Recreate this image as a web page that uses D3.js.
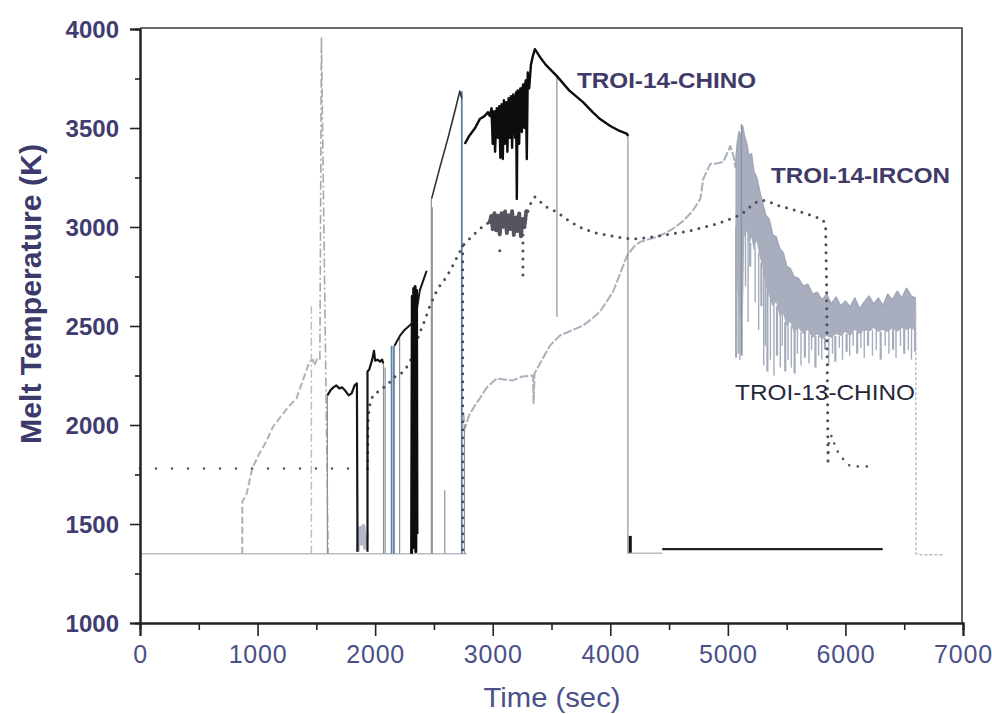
<!DOCTYPE html>
<html>
<head>
<meta charset="utf-8">
<script src="https://cdn.jsdelivr.net/npm/d3@7"></script>
<style>
  html, body { margin: 0; padding: 0; background: #fff; }
  svg { display: block; }
</style>
</head>
<body>
<svg id="chart" width="992" height="714"></svg>
<script>
// -- axis ticks --
const xTicks = [0, 1000, 2000, 3000, 4000, 5000, 6000, 7000];
const xMinor = [500, 1500, 2500, 3500, 4500, 5500, 6500];
const yTicks = [1000, 1500, 2000, 2500, 3000, 3500, 4000];
const yMinor = [1250, 1750, 2250, 2750, 3250, 3750];

// -- TROI-14-CHINO (black) --
const chino14a = [[1594,2150],[1620,2175],[1645,2190],[1670,2200],[1695,2185],[1720,2190],[1750,2170],[1775,2150],[1800,2160],[1825,2200],[1845,2210],[1850,1360]];
const chino14b = [[1935,1360],[1935,2270],[1950,2280],[1975,2330],[1990,2375],[2000,2325],[2020,2330],[2040,2320],[2060,2330],[2068,2310]];
const chino14c = [[2165,2400],[2210,2450],[2250,2480],[2293,2502],[2340,2530],[2380,2680],[2438,2779]];
const chino14burst = [[2310,1350],[2316,2650],[2322,1380],[2328,2690],[2334,1400],[2340,2700],[2346,1360],[2352,2680],[2356,1450]];
const chino14ramp = [[2480,3142],[2550,3300],[2620,3450],[2680,3590],[2720,3686],[2737,3650]];
const chino14main = [[2762,3419],[2800,3460],[2850,3500],[2890,3545],[2930,3560],[2960,3580],[2975,3560],[2990,3600],[3000,3420],[3010,3580],[3020,3380],[3035,3600],[3045,3450],[3055,3610],[3065,3350],[3075,3620],[3086,3343],[3095,3640],[3105,3420],[3115,3630],[3125,3380],[3135,3650],[3145,3450],[3155,3660],[3165,3400],[3175,3670],[3190,3450],[3198,3680],[3205,3142],[3212,3690],[3225,3420],[3235,3700],[3248,3480],[3258,3720],[3270,3500],[3280,3740],[3290,3343],[3298,3780],[3310,3700],[3325,3820],[3340,3860],[3359,3898],[3400,3860],[3450,3820],[3546,3762],[3650,3690],[3768,3631],[3850,3580],[3913,3545],[4000,3510],[4080,3485],[4143,3470],[4150,3460]];
const chino14coreT  = [2985,3020,3060,3100,3140,3180,3220,3260,3300];
const chino14coreHi = [3590,3590,3610,3620,3640,3660,3690,3720,3760];
const chino14coreLo = [3520,3470,3460,3480,3470,3480,3500,3520,3600];
const chino14tick = [[4170,1355],[4170,1440]];
const chino14flat = [[4442,1373],[6317,1373]];

// -- TROI-14-IRCON (dotted) --
const ircon14flat = [[0,1780],[1841,1780]];
const ircon14rise = [[1935,1780],[1940,2040],[1960,2120],[1990,2160],[2037,2170],[2070,2190],[2106,2200],[2150,2240],[2208,2250],[2250,2280],[2293,2310],[2350,2420],[2421,2527],[2463,2597],[2532,2688],[2608,2749],[2677,2824],[2745,2905],[2800,2940],[2864,2976],[2930,3010],[2975,3026]];
const ircon14noise = [[2975,3026],[2990,3060],[3000,2990],[3015,3070],[3030,2980],[3045,3060],[3060,2960],[3075,3070],[3090,3000],[3105,3080],[3120,2970],[3135,3060],[3150,2990],[3165,3080],[3180,2960],[3195,3050],[3210,2980],[3225,3070],[3240,2950],[3255,3040],[3270,3000],[3285,3080],[3300,3080]];
const ircon14fall = [[3300,3080],[3330,3130],[3359,3152],[3400,3130],[3460,3100],[3546,3076],[3650,3030],[3768,2991],[3880,2970],[3998,2956],[4100,2945],[4194,2940],[4300,2945],[4425,2956],[4550,2968],[4680,2981],[4800,3000],[4910,3016],[5000,3036],[5081,3056],[5150,3080],[5220,3120],[5290,3135],[5336,3132],[5420,3110],[5533,3092],[5650,3070],[5750,3050],[5800,3040],[5831,3016],[5840,2700],[5845,2300],[5852,1817]];
const ircon14tail = [[5852,1817],[5862,1942],[5890,1945],[5915,1880],[5960,1847],[6000,1810],[6045,1791],[6200,1791]];
const ircon14drops = [[[3257,3000],[3257,2750]], [[2745,2905],[2745,1360]], [[3060,2880],[3062,2875]]];

// -- TROI-13-CHINO (grey) --
const chino13base = [[0,1350],[2780,1350]];
const chino13base2 = [[4150,1352],[4442,1352]];
const chino13rise = [[870,1350],[870,1615],[904,1645],[955,1781],[1010,1850],[1074,1917],[1130,1990],[1185,2033],[1260,2090],[1330,2134],[1400,2250],[1441,2320],[1470,2330],[1483,2300],[1510,2340]];
const chino13blob = [[1850,1360],[1870,1480],[1885,1400],[1900,1490],[1915,1380],[1930,1450]];
const chino13climb = [[2750,2060],[2762,1983],[2800,2050],[2850,2100],[2890,2134],[2950,2190],[3035,2235],[3100,2230],[3171,2225],[3250,2245],[3342,2250],[3348,2110],[3356,2260],[3420,2330],[3487,2401],[3572,2452],[3680,2480],[3768,2502],[3850,2540],[3913,2573],[4024,2673],[4100,2790],[4143,2855],[4200,2900],[4254,2925],[4340,2940],[4425,2956],[4530,2990],[4621,3031],[4700,3080],[4766,3142],[4791,3243],[4851,3319],[4900,3320],[4962,3329],[5021,3409],[5047,3359],[5064,3300]];
const bandT  = [5064,5080,5095,5110,5125,5140,5160,5180,5200,5220,5245,5270,5295,5320,5350,5380,5410,5440,5470,5500,5530,5560,5600,5640,5680,5720,5760,5800,5840,5880,5920,5960,6000,6040,6080,6120,6160,6200,6240,6280,6320,6360,6400,6440,6480,6520,6560,6600];
const bandHi = [3300,3420,3480,3440,3510,3460,3420,3350,3370,3280,3250,3180,3120,3060,3040,2960,2950,2890,2870,2800,2790,2750,2740,2700,2710,2660,2670,2630,2660,2610,2645,2600,2625,2595,2640,2585,2620,2650,2610,2640,2600,2660,2630,2675,2640,2690,2650,2640];
const bandLo = [3000,2700,2600,2500,2450,2950,2980,2900,2950,2880,2930,2850,2800,2700,2650,2600,2620,2550,2560,2500,2520,2470,2490,2460,2480,2440,2460,2430,2450,2440,2460,2450,2470,2450,2480,2460,2480,2470,2490,2470,2480,2470,2490,2470,2490,2480,2490,2470];
const bandStreaks = [[5070,3000,2340],[5088,2700,2360],[5102,2600,2330],[5118,2500,2350],[5150,2980,2700],[5172,2950,2520],[5190,2920,2800],[5232,2900,2620],[5262,2870,2480],[5285,2820,2600],[5305,2780,2300],[5318,2720,2400],[5336,2680,2270],[5362,2640,2330],[5392,2610,2250],[5418,2600,2350],[5446,2560,2290],[5463,2560,2400],[5488,2520,2270],[5512,2510,2330],[5540,2500,2290],[5568,2480,2260],[5592,2490,2360],[5622,2470,2300],[5655,2470,2340],[5690,2470,2310],[5712,2450,2380],[5745,2450,2290],[5772,2450,2350],[5798,2440,2330],[5826,2440,2380],[5858,2440,2300],[5890,2450,2360],[5914,2450,2320],[5948,2450,2390],[5975,2460,2330],[6010,2460,2370],[6036,2460,2350],[6066,2470,2400],[6100,2470,2360],[6132,2470,2390],[6160,2480,2340],[6192,2470,2400],[6230,2480,2350],[6262,2480,2380],[6300,2470,2330],[6338,2480,2400],[6370,2480,2360],[6405,2490,2380],[6430,2480,2340],[6468,2490,2400],[6500,2490,2360],[6535,2490,2380],[6562,2490,2330],[6592,2480,2370]];
const chino13drop = [[6598,2620],[6600,1350],[6640,1345],[6840,1345]];

// -- spikes and thin connecting lines --
const dashDotA = [[1458,1350],[1458,2600]];
const dashDotB = [[1530,2330],[1543,3959],[1600,1350]];
const greyVerticals = [[1594,1350,2150],[2071,1350,2310],[2085,1350,2290],[2208,1350,2450],[2478,1350,3142],[2486,1350,3100],[2592,1350,1670],[3546,2547,3762],[4150,1350,3470],[5115,2360,3520],[2760,1350,2000]];
const blueVerticals = [[2140,1350,2400],[2160,1350,2400],[2737,1350,3686]];

// -- annotations --
const seriesNames = ["TROI-14-CHINO", "TROI-14-IRCON", "TROI-13-CHINO"];
const nameAnchors = [[3717,3702],[5367,3222],[5061,2126]];

// -- layout --
const svg = d3.select("#chart");
const x = d3.scaleLinear().domain([0, 7000]).range([140, 963]);
const y = d3.scaleLinear().domain([1000, 4000]).range([623, 29]);
const line = d3.line().x(d => x(d[0])).y(d => y(d[1]));

function draw(data, color, width, dash, cap) {
    svg.append("path")
        .attr("d", line(data))
        .attr("fill", "none")
        .attr("stroke", color)
        .attr("stroke-width", width)
        .attr("stroke-dasharray", dash || null)
        .attr("stroke-linecap", cap || "butt")
        .attr("stroke-linejoin", "round");
}

function envelope(ts, hi, lo, color) {
    let rows = ts.map((t, i) => [t, hi[i], lo[i]]);
    svg.append("path")
        .attr("d", d3.area().x(d => x(d[0])).y0(d => y(d[2])).y1(d => y(d[1]))(rows))
        .attr("fill", color);
}

// frame
svg.append("path")
    .attr("d", `M${x(0)},${y(4000) - 1}H${x(7000) - 1}V${y(1000)}`)
    .attr("fill", "none").attr("stroke", "#3a3a3a").attr("stroke-width", 1.6);

// grey noise band (TROI-13)
envelope(bandT, bandHi, bandLo, "#a8aebd");
svg.selectAll(".streak")
    .data(bandStreaks)
    .enter().append("line")
    .attr("class", "streak")
    .attr("x1", d => x(d[0])).attr("x2", d => x(d[0]))
    .attr("y1", d => y(d[1])).attr("y2", d => y(d[2]))
    .attr("stroke", "#a4abbb").attr("stroke-width", (d, i) => i % 3 === 0 ? 2.2 : 1.4);
draw(bandT.map((t, i) => [t, bandHi[i]]), "#a2a9ba", 1.8);

// TROI-13-CHINO grey line
draw(chino13base, "#b9bcc4", 1.6);
draw(chino13base2, "#b9bcc4", 1.4);
draw(chino13rise, "#aeb2bb", 2, "7,3");
draw(chino13blob, "#b3b8c6", 4);
draw(chino13climb, "#aab0bc", 2, "9,2");
draw(chino13drop, "#b4b8c0", 1.4, "3,2");

// dash-dot spikes
draw(dashDotA, "#b8b8b8", 1.4, "8,3,2,3");
draw(dashDotB, "#a8a8a8", 1.6, "9,3,2,3");

// thin vertical lines
svg.selectAll(".gv")
    .data(greyVerticals)
    .enter().append("line")
    .attr("class", "gv")
    .attr("x1", d => x(d[0])).attr("x2", d => x(d[0]))
    .attr("y1", d => y(d[1])).attr("y2", d => y(d[2]))
    .attr("stroke", "#8d9199").attr("stroke-width", 1.2);
svg.selectAll(".bv")
    .data(blueVerticals)
    .enter().append("line")
    .attr("class", "bv")
    .attr("x1", d => x(d[0])).attr("x2", d => x(d[0]))
    .attr("y1", d => y(d[1])).attr("y2", d => y(d[2]))
    .attr("stroke", "#5f83a8").attr("stroke-width", 1.8);

// TROI-14-IRCON dotted
draw(ircon14flat, "#555560", 2.6, "0,16", "round");
draw(ircon14rise, "#4e4e5a", 3, "0,8", "round");
draw(ircon14noise, "#55555f", 4, "2,2", "round");
draw(ircon14fall, "#4e4e5a", 3, "0,8", "round");
draw(ircon14tail, "#555560", 2.6, "0,9", "round");
ircon14drops.forEach(d => draw(d, "#4e4e5a", 3, "0,8", "round"));

// TROI-14-CHINO black
draw(chino14a, "#151515", 2.2);
draw(chino14b, "#151515", 2.2);
draw(chino14c, "#151515", 2);
draw(chino14burst, "#0d0d0d", 3);
draw(chino14ramp, "#303030", 1.6);
envelope(chino14coreT, chino14coreHi, chino14coreLo, "#111");
draw(chino14main, "#0d0d0d", 2.4);
draw(chino14tick, "#111", 3);
draw(chino14flat, "#222", 2.4);

// axes
const axisColor = "#222";
const xAxis = svg.append("g").attr("transform", `translate(0,${y(1000)})`)
    .call(d3.axisBottom(x).tickValues(xTicks).tickSize(13).tickPadding(9).tickFormat(d3.format("d")));
const xAxisMinor = svg.append("g").attr("transform", `translate(0,${y(1000)})`)
    .call(d3.axisBottom(x).tickValues(xMinor).tickSize(7).tickFormat(""));
const yAxis = svg.append("g").attr("transform", `translate(${x(0)},0)`)
    .call(d3.axisLeft(y).tickValues(yTicks).tickSize(10).tickPadding(11).tickFormat(d3.format("d")));
const yAxisMinor = svg.append("g").attr("transform", `translate(${x(0)},0)`)
    .call(d3.axisLeft(y).tickValues(yMinor).tickSize(5).tickFormat(""));

[xAxis, xAxisMinor, yAxis, yAxisMinor].forEach(g => {
    g.select(".domain").attr("stroke", axisColor).attr("stroke-width", 2);
    g.selectAll(".tick line").attr("stroke", axisColor).attr("stroke-width", 1.6);
});
xAxis.selectAll("text")
    .attr("fill", "#4a5088")
    .style("font-family", "'Liberation Sans Narrow', 'Liberation Sans', sans-serif")
    .style("font-size", "25px")
    .style("letter-spacing", "0.8px");
yAxis.selectAll("text")
    .attr("fill", "#3f3c70")
    .style("font-family", "'Liberation Sans', Arial, sans-serif")
    .style("font-weight", "bold")
    .style("font-size", "24px")
    .attr("dy", "0.36em");

// axis titles
svg.append("text")
    .attr("transform", "translate(41,294) rotate(-90)")
    .attr("text-anchor", "middle")
    .attr("fill", "#3d3a6b")
    .attr("textLength", 300)
    .attr("lengthAdjust", "spacingAndGlyphs")
    .style("font-family", "'Liberation Sans', Arial, sans-serif")
    .style("font-weight", "bold")
    .style("font-size", "29px")
    .text("Melt Temperature (K)");

svg.append("text")
    .attr("x", 552)
    .attr("y", 707)
    .attr("text-anchor", "middle")
    .attr("fill", "#4a5088")
    .attr("textLength", 137)
    .attr("lengthAdjust", "spacingAndGlyphs")
    .style("font-family", "'Liberation Sans Narrow', 'Liberation Sans', sans-serif")
    .style("font-size", "28px")
    .text("Time (sec)");

// series names
const nameStyles = [
    { fill: "#3f3a68", weight: "bold", len: 179 },
    { fill: "#3f3a68", weight: "bold", len: 179 },
    { fill: "#25283a", weight: "normal", len: 180 }
];
svg.selectAll(".series-name")
    .data(seriesNames)
    .enter().append("text")
    .attr("class", "series-name")
    .attr("x", (d, i) => x(nameAnchors[i][0]))
    .attr("y", (d, i) => y(nameAnchors[i][1]))
    .attr("fill", (d, i) => nameStyles[i].fill)
    .attr("textLength", (d, i) => nameStyles[i].len)
    .attr("lengthAdjust", "spacingAndGlyphs")
    .style("font-family", "'Liberation Sans', Arial, sans-serif")
    .style("font-weight", (d, i) => nameStyles[i].weight)
    .style("font-size", "22px")
    .text(d => d);
</script>
</body>
</html>
